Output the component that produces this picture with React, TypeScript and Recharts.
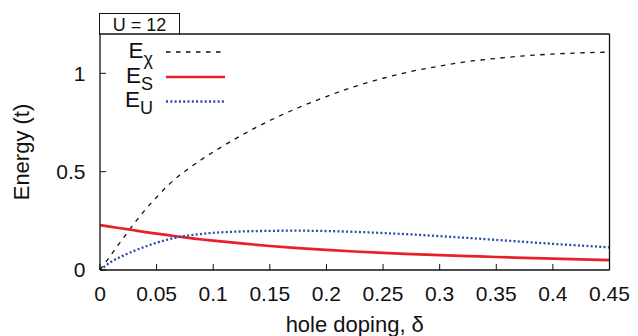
import React from "react";
import { LineChart, Line, XAxis, YAxis, Legend } from "recharts";

// Hole doping grid and the three energy scales (units of t) at U = 12
const doping = [0, 0.01, 0.02, 0.03, 0.04, 0.05, 0.06, 0.07, 0.08, 0.09, 0.1, 0.125, 0.15, 0.175, 0.2, 0.225, 0.25, 0.275, 0.3, 0.325, 0.35, 0.375, 0.4, 0.425, 0.45];
const eChi = [0, 0.079, 0.158, 0.235, 0.307, 0.37, 0.43, 0.48, 0.523, 0.563, 0.6, 0.685, 0.76, 0.825, 0.882, 0.933, 0.975, 1.01, 1.037, 1.06, 1.076, 1.089, 1.098, 1.104, 1.108];
const eS = [0.228, 0.219, 0.211, 0.202, 0.193, 0.185, 0.177, 0.169, 0.162, 0.155, 0.149, 0.135, 0.122, 0.111, 0.102, 0.094, 0.087, 0.081, 0.076, 0.071, 0.066, 0.062, 0.058, 0.054, 0.05];
const eU = [0, 0.042, 0.072, 0.097, 0.119, 0.139, 0.155, 0.168, 0.177, 0.184, 0.189, 0.196, 0.199, 0.2, 0.198, 0.194, 0.188, 0.181, 0.172, 0.163, 0.153, 0.143, 0.133, 0.124, 0.115];

const xTicks = [0, 0.05, 0.1, 0.15, 0.2, 0.25, 0.3, 0.35, 0.4, 0.45];
const yTicks = [0, 0.5, 1];

const seriesKeys = ["chi", "s", "u"];
const seriesSubs = ["χ", "S", "U"];
const seriesColors = ["#111111", "#e8202a", "#2a4aa8"];
const seriesWidths = [1.3, 2.7, 2.3];
const seriesDashes = ["4.5 5.5", undefined, "2 2.3"];

const panelLabel = "U = 12";
const xLabel = "hole doping, δ";
const yLabel = "Energy (t)";

const data = doping.map((d, i) => ({ d, chi: eChi[i], s: eS[i], u: eU[i] }));

const FONT = "'Liberation Sans', Arial, Helvetica, sans-serif";

function LegendBox() {
  const lineY = [16, 41, 65.5];
  const baseY = [22, 47, 71];
  return (
    <svg width={112} height={80} style={{ display: "block", overflow: "visible" }}>
      {seriesKeys.map((k, i) => (
        <g key={k}>
          <text x={38} y={baseY[i]} textAnchor="end" fontSize={22.5} fontFamily={FONT} fill="#111">
            E
            <tspan fontSize={18} dy={6.5}>{seriesSubs[i]}</tspan>
          </text>
          <line
            x1={51}
            x2={110}
            y1={lineY[i]}
            y2={lineY[i]}
            stroke={seriesColors[i]}
            strokeWidth={seriesWidths[i]}
            strokeDasharray={seriesDashes[i]}
          />
        </g>
      ))}
    </svg>
  );
}

export default function App() {
  const tickStyle = { fontSize: 21, fontFamily: FONT, fill: "#111" };
  return (
    <div style={{ position: "absolute", left: 0, top: 0, width: 638, height: 336, background: "#fff" }}>
      <LineChart
        width={638}
        height={336}
        data={data}
        margin={{ top: 33, right: 27.5, bottom: 0, left: 40 }}
      >
        <XAxis
          xAxisId="b"
          dataKey="d"
          type="number"
          domain={[0, 0.45]}
          ticks={xTicks}
          height={66}
          tickSize={-6}
          tickMargin={22}
          tick={tickStyle}
          stroke="#111"
          axisLine={{ stroke: "#111", strokeWidth: 1.3 }}
          tickLine={{ stroke: "#111" }}
          label={{ value: xLabel, position: "insideBottom", offset: 4.5, fontSize: 22, fontFamily: FONT, fill: "#111" }}
        />
        <XAxis
          xAxisId="t"
          orientation="top"
          dataKey="d"
          type="number"
          domain={[0, 0.45]}
          ticks={xTicks}
          height={1}
          tick={false}
          tickSize={-6}
          axisLine={{ stroke: "#111", strokeWidth: 1.3 }}
          tickLine={{ stroke: "#111" }}
        />
        <YAxis
          yAxisId="l"
          type="number"
          domain={[0, 1.2]}
          ticks={yTicks}
          width={60}
          tickSize={-6}
          tickMargin={20.5}
          tick={tickStyle}
          axisLine={{ stroke: "#111", strokeWidth: 1.3 }}
          tickLine={{ stroke: "#111" }}
          label={{ value: yLabel, angle: -90, position: "center", dx: -49, fontSize: 22, fontFamily: FONT, fill: "#111" }}
        />
        <YAxis
          yAxisId="r"
          orientation="right"
          type="number"
          domain={[0, 1.2]}
          ticks={yTicks}
          width={1}
          tick={false}
          tickSize={-6}
          axisLine={{ stroke: "#111", strokeWidth: 1.3 }}
          tickLine={{ stroke: "#111" }}
        />
        <Legend
          layout="vertical"
          align="center"
          verticalAlign="middle"
          wrapperStyle={{ left: 115, top: 36, width: 112, height: 80 }}
          content={() => <LegendBox />}
        />
        {seriesKeys.map((k, i) => (
          <Line
            key={k}
            xAxisId="b"
            yAxisId="l"
            dataKey={k}
            type="monotone"
            stroke={seriesColors[i]}
            strokeWidth={seriesWidths[i]}
            strokeDasharray={seriesDashes[i]}
            dot={false}
            activeDot={false}
            isAnimationActive={false}
          />
        ))}
      </LineChart>
      <div
        style={{
          position: "absolute",
          left: 99,
          top: 13,
          width: 81,
          height: 22,
          boxSizing: "border-box",
          border: "1.3px solid #111",
          borderBottom: "none",
          fontFamily: FONT,
          fontSize: 18,
          color: "#111",
          lineHeight: "22px",
          textAlign: "center",
        }}
      >
        {panelLabel}
      </div>
    </div>
  );
}
